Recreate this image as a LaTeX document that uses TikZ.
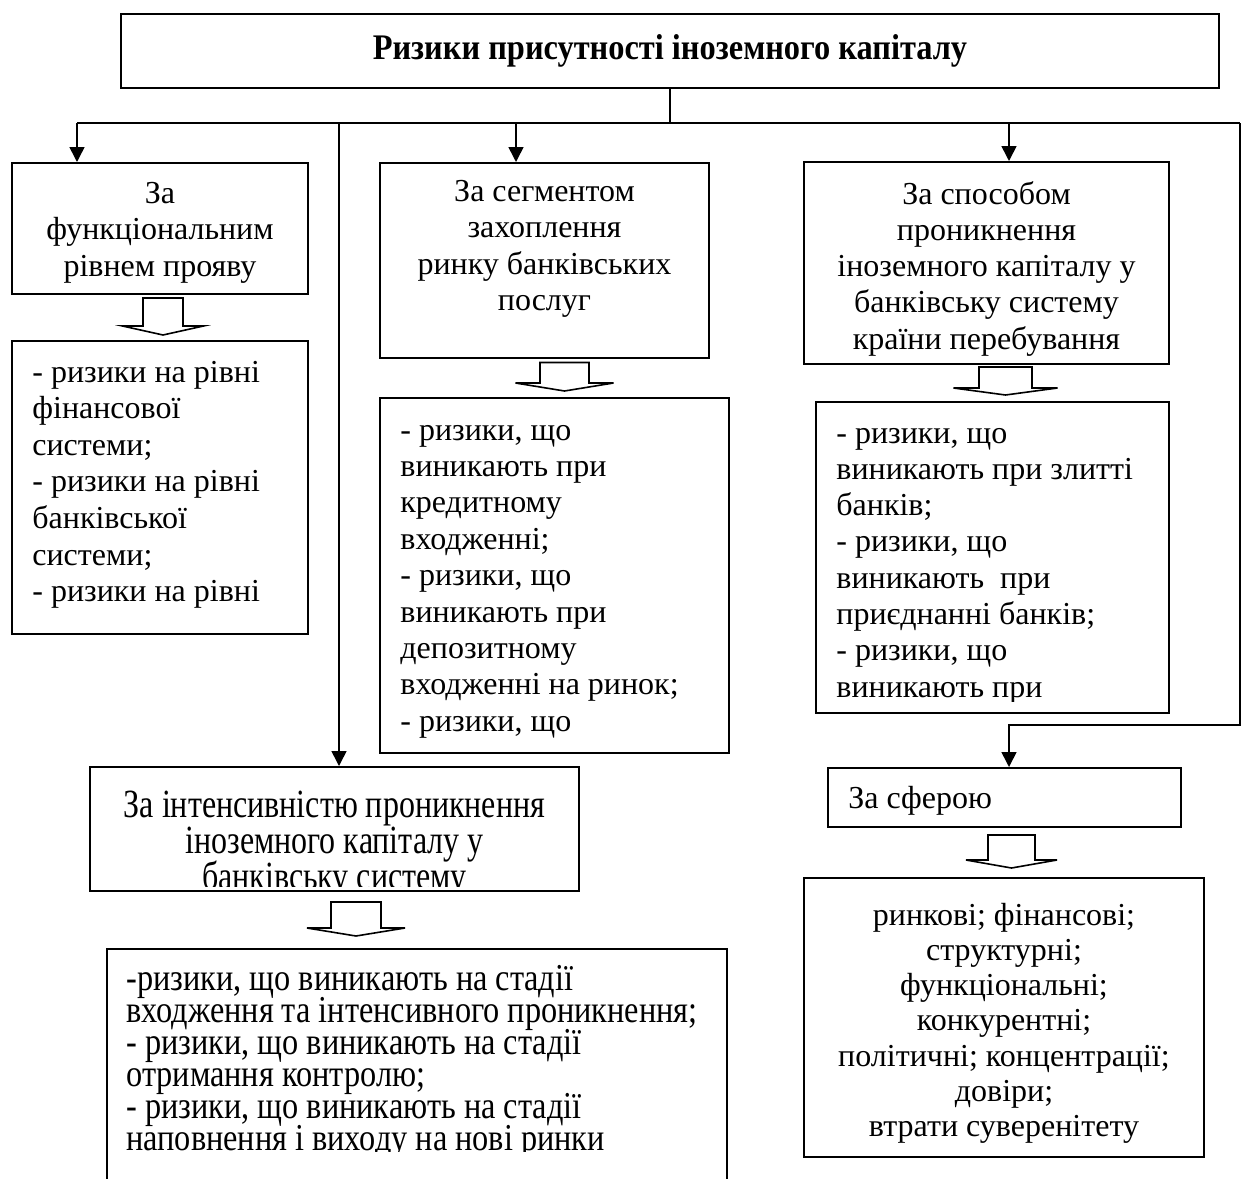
\documentclass[tikz,border=0pt]{standalone}
\usepackage{fontspec}
\setmainfont{Liberation Serif}
\newfontfamily\narrowfont[FakeStretch=0.8]{Liberation Serif}
\newfontfamily\listfont[FakeStretch=0.85]{Liberation Serif}
\newfontfamily\headfont[FakeStretch=0.9]{Liberation Serif}
\usetikzlibrary{arrows.meta, calc, positioning}
\lineskiplimit=-\maxdimen

\tikzset{pics/hollow/.style n args={4}{code={
    \draw[line width=0.8pt, fill=white] (-#1,0) -- (#1,0) -- (#1,#3) -- (#2,#3)
        -- (0,{#3+#4}) -- (-#2,#3) -- (-#1,#3) -- cycle;}}}

\begin{document}
\begin{tikzpicture}[x=0.5pt, y=-0.5pt,
        box/.style={draw, line width=1pt, inner sep=0pt, anchor=north west},
        txt/.style={inner sep=0pt, font=\fontsize{16}{18.3}\selectfont},
        lst/.style={txt, align=left, anchor=base west},
        ctr/.style={txt, align=center, anchor=base},
        link/.style={line width=0.8pt},
        arr/.style={link, -{Triangle[length=7.5pt, width=7.5pt]}}]

    \useasboundingbox (0,0) rectangle (1242,1178);
    \clip (0,0) rectangle (1242,1178);

    % boxes
    \node[box, minimum width=549pt, minimum height=37pt] (title) at (120,13)
        {\headfont\bfseries\fontsize{18}{20}\selectfont\raisebox{-1.5pt}{Ризики присутності іноземного капіталу}};
    \node[box, minimum width=148pt, minimum height=65.5pt] (func) at (11,162) {};
    \node[box, minimum width=148pt, minimum height=146.5pt] (funclist) at (11,340) {};
    \node[box, minimum width=164.5pt, minimum height=97.5pt] (segm) at (379,162) {};
    \node[box, minimum width=174.5pt, minimum height=177.5pt] (segmlist) at (379,397) {};
    \node[box, minimum width=182.5pt, minimum height=101pt] (way) at (803,161) {};
    \node[box, minimum width=176.5pt, minimum height=155.5pt] (waylist) at (815,401) {};
    \node[box, minimum width=176.5pt, minimum height=29.5pt] (sphere) at (827,767) {};
    \node[box, minimum width=200pt, minimum height=139.5pt] (spherelist) at (803,877) {};
    \node[box, minimum width=244.5pt, minimum height=62pt] (intens) at (89,766) {};
    \node[box, minimum width=310pt, minimum height=130pt] (intenslist) at (106,948) {};

    % texts (base = baseline of the last line)
    \node[ctr] (funcT) at ($(func.north)+(0,114.2)$)
        {За\\функціональним\\рівнем прояву};
    \node[lst] (funclistT) at ($(funclist.north west)+(21,261.6)$)
        {- ризики на рівні\\фінансової\\системи;\\- ризики на рівні\\банківської\\системи;\\- ризики на рівні};
    \node[ctr] (segmT) at ($(segm.north)+(0,148.8)$)
        {За сегментом\\захоплення\\ринку банківських\\послуг};
    \node[lst, font=\fontsize{16}{18.2}\selectfont] (segmlistT) at ($(segmlist.north west)+(21,334.2)$)
        {- ризики, що\\виникають при\\кредитному\\входженні;\\- ризики, що\\виникають при\\депозитному\\входженні на ринок;\\- ризики, що};
    \node[ctr, font=\fontsize{16}{18.15}\selectfont] (wayT) at ($(way.north)+(0,188.2)$)
        {За способом\\проникнення\\іноземного капіталу у\\банківську систему\\країни перебування};
    \begin{scope}
        \clip (waylist.north west) rectangle ($(waylist.south east)+(0,-13)$);
        \node[lst, font=\fontsize{16}{18.15}\selectfont] (waylistT) at ($(waylist.north west)+(21,296.1)$)
            {- ризики, що\\виникають при злитті\\банків;\\- ризики, що\\виникають~ при\\приєднанні банків;\\- ризики, що\\виникають при};
    \end{scope}
    \node[lst] (sphereT) at ($(sphere.north west)+(21,41)$) {За сферою};
    \node[ctr, font=\fontsize{16}{17.65}\selectfont] (spherelistT) at ($(spherelist.north)+(0,259.8)$)
        {ринкові; фінансові;\\структурні;\\функціональні;\\конкурентні;\\політичні; концентрації;\\довіри;\\втрати суверенітету};
    \begin{scope}
        \clip (intens.north west) rectangle ($(intens.south east)+(0,-6)$);
        \node[ctr, font=\narrowfont\fontsize{20}{18}\selectfont] (intensT) at ($(intens.north)+(0,123)$)
            {За інтенсивністю проникнення\\іноземного капіталу у\\банківську систему};
    \end{scope}
    \begin{scope}
        \clip (intenslist.north west) rectangle ($(intenslist.north east)+(0,203)$);
        \node[lst, font=\listfont\fontsize{19}{16}\selectfont] (intenslistT) at ($(intenslist.north west)+(20,202)$)
            {-ризики, що виникають на стадії\\входження та інтенсивного проникнення;\\- ризики, що виникають на стадії\\отримання контролю;\\- ризики, що виникають на стадії\\наповнення і виходу на нові ринки};
    \end{scope}

    % connectors
    \coordinate (busL) at (77,123);
    \coordinate (busR) at (1240,123);
    \coordinate (dropE) at (339,123);
    \coordinate (dropB) at (516,123);
    \coordinate (dropC) at (1009,123);
    \coordinate (turn) at (1240,725);
    \draw[link] (title.south) -- (title.south |- busL);
    \draw[link] (busL) -- (busR);
    \draw[arr] (busL) -- (busL |- func.north);
    \draw[arr] (dropE) -- (dropE |- intens.north);
    \draw[arr] (dropB) -- (dropB |- segm.north);
    \draw[arr] (dropC) -- (dropC |- way.north);
    \draw[arr] (busR) -- (turn) -- (turn -| dropC) -- (dropC |- sphere.north);

    % hollow arrows
    \pic at (163,298) {hollow={20}{40.5}{28}{9}};
    \pic at (564.5,362.5) {hollow={24.5}{49}{20.5}{8}};
    \pic at (1005.5,367) {hollow={26.5}{52}{21}{7}};
    \pic at (1011.5,835) {hollow={23.5}{45.5}{25}{8}};
    \pic at (356,902) {hollow={25}{49}{26}{8}};
\end{tikzpicture}
\end{document}
